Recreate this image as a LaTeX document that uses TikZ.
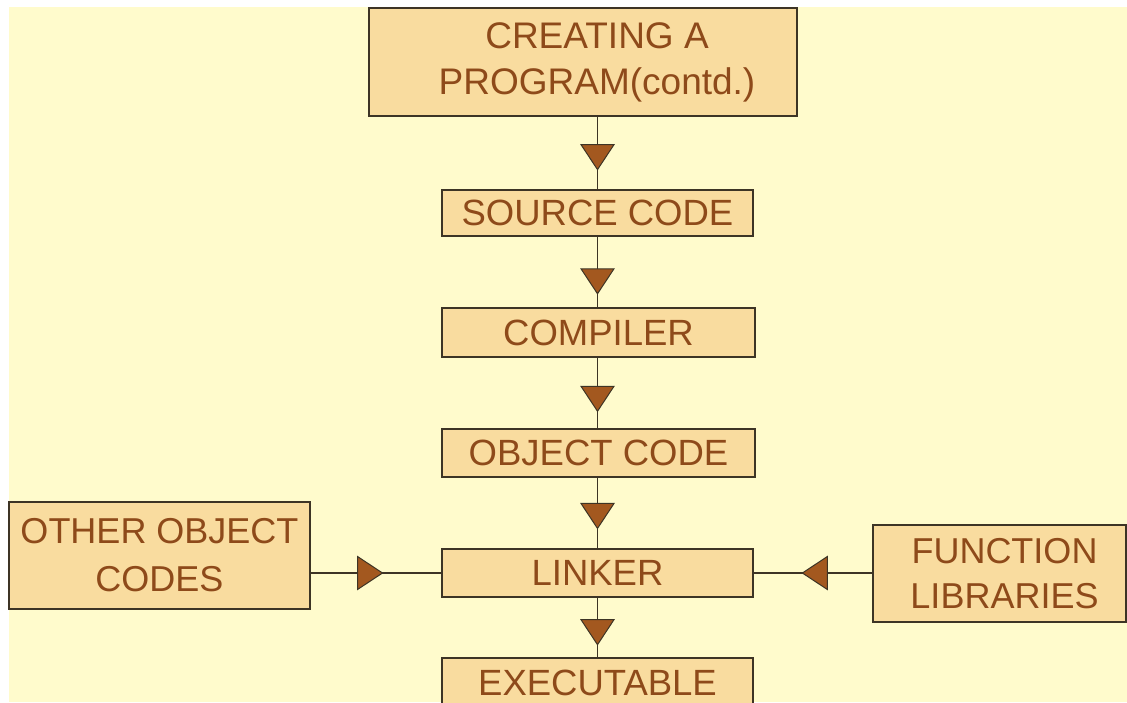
\documentclass[tikz,border=0pt]{standalone}
\usepackage{fontspec}
\setmainfont{Liberation Sans}
\usetikzlibrary{decorations.markings}
\definecolor{bgyellow}{HTML}{FFFBCC}
\definecolor{boxfill}{HTML}{F9DC9F}
\definecolor{txtbrown}{HTML}{8E4A1A}
\definecolor{edgecol}{HTML}{3D3425}
\definecolor{trifill}{HTML}{A3581F}
\begin{document}
\begin{tikzpicture}[x=1pt,y=-1pt,
  box/.style={draw=edgecol, line width=1.8pt, fill=boxfill, text=txtbrown,
    align=center, inner sep=0pt, font=\fontsize{36.5}{46}\selectfont},
  conn/.style={draw=edgecol, line width=1.8pt},
  flowto/.style={conn, postaction={decorate},
    decoration={markings, mark=at position #1 with {
      \filldraw[fill=trifill, draw=edgecol, line width=1pt, line join=miter]
        (0pt,0pt) -- (-25pt,16.5pt) -- (-25pt,-16.5pt) -- cycle;}}}
]
\useasboundingbox (0,0) rectangle (1127,702);
\clip (0,0) rectangle (1127,702);
\fill[white] (0,0) rectangle (1127,702);
\fill[bgyellow] (9,7) rectangle (1127,702);

\node[box, minimum width=428pt, minimum height=108pt, font=\fontsize{37}{46}\selectfont]
  (title) at (583,62) {\hspace*{28pt}CREATING A\\\hspace*{28pt}PROGRAM(contd.)};
\node[box, minimum width=311pt, minimum height=46pt] (src) at (597.5,213) {SOURCE CODE};
\node[box, minimum width=313pt, minimum height=49pt] (comp) at (598.5,332.5) {COMPILER};
\node[box, minimum width=313pt, minimum height=48pt] (obj) at (598.5,453) {OBJECT CODE};
\node[box, minimum width=311pt, minimum height=48pt] (link) at (597.5,573) {LINKER};
\node[box, minimum width=311pt, minimum height=50pt] (exec) at (597.5,683) {EXECUTABLE};
\node[box, minimum width=301pt, minimum height=107pt, font=\fontsize{36}{48}\selectfont]
  (other) at (159.5,555.5) {OTHER OBJECT\\CODES};
\node[box, minimum width=253pt, minimum height=97pt, font=\fontsize{36}{45}\selectfont]
  (func) at (999.5,573.5) {\hspace*{10pt}FUNCTION\\\hspace*{10pt}LIBRARIES};

\path[flowto=0.73] (title.south -| src.north) -- (src.north);
\path[flowto=0.81] (src.south) -- (src.south |- comp.north);
\path[flowto=0.76] (comp.south -| src.south) -- (src.south |- obj.north);
\path[flowto=0.72] (obj.south -| src.south) -- (link.north);
\path[flowto=0.79] (link.south) -- (exec.north);
\path[flowto=0.55] (other.east |- link.west) -- (link.west);
\path[flowto=0.59] (func.west |- link.east) -- (link.east);
\end{tikzpicture}
\end{document}
